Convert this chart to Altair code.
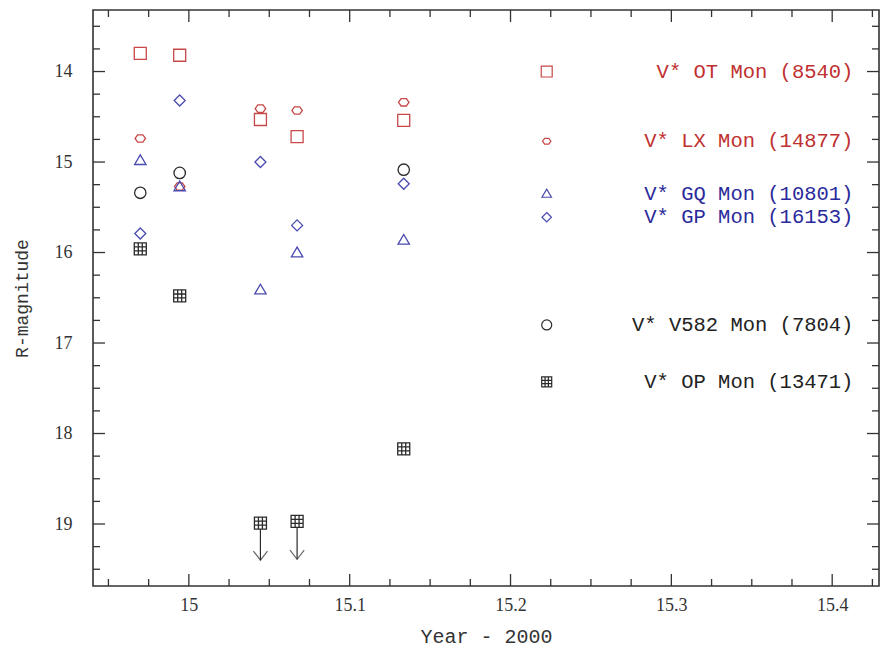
import altair as alt
import pandas as pd

# ---------------- data ----------------
years = [14.9698, 14.9943, 15.0445, 15.0673, 15.1336]
ot_mag = [13.80, 13.82, 14.53, 14.72, 14.54]
lx_mag = [14.74, 15.27, 14.41, 14.43, 14.34]
gq_mag = [14.98, 15.27, 16.41, 16.00, 15.86]
gp_mag = [15.79, 14.32, 15.00, 15.70, 15.24]
v582_mag = [15.34, 15.12, None, None, 15.085]
op_mag = [15.96, 16.48, 18.99, 18.97, 18.17]
op_upper = [False, False, True, True, False]
op_arrow_tip = [None, None, 19.40, 19.39, None]

series_keys = ["OT", "LX", "GQ", "GP", "V582", "OP"]
legend_names = ["V* OT Mon (8540)", "V* LX Mon (14877)", "V* GQ Mon (10801)",
                "V* GP Mon (16153)", "V* V582 Mon (7804)", "V* OP Mon (13471)"]
legend_mag = [14.00, 14.77, 15.35, 15.61, 16.80, 17.43]
legend_symbol_year = 15.2225
legend_text_year = 15.4132

x_domain = [14.9404, 15.4291]
y_domain = [13.32, 19.685]
x_major = [15.0, 15.1, 15.2, 15.3, 15.4]
x_minor = [14.95, 14.975, 15.025, 15.05, 15.075, 15.125, 15.15, 15.175,
           15.225, 15.25, 15.275, 15.325, 15.35, 15.375, 15.425]
y_major = [14, 15, 16, 17, 18, 19]
y_minor = [13.5, 13.75, 14.25, 14.5, 14.75, 15.25, 15.5, 15.75, 16.25, 16.5,
           16.75, 17.25, 17.5, 17.75, 18.25, 18.5, 18.75, 19.25, 19.5]

# ---------------- styling ----------------
W, H = 786, 576
RED_M, BLUE_M, BLACK_M = "#c84848", "#4a4ab0", "#2a2a2a"
RED_T, BLUE_T, BLACK_T = "#c03030", "#2a2a9a", "#222222"

HEX = "M-0.5,-0.7L0.5,-0.7L1,0L0.5,0.7L-0.5,0.7L-1,0Z"
TRI = "M-1,0.75L1,0.75L0,-0.95Z"
DIAM = "M0,-1L1,0L0,1L-1,0Z"
GRID = ("M-1,-1L1,-1L1,1L-1,1Z M-0.33,-1L-0.33,1 M0.33,-1L0.33,1 "
        "M-1,-0.33L1,-0.33 M-1,0.33L1,0.33")
VHEAD = "M-1,-1.3L0,0L1,-1.3"

style = {
    "OT": dict(shape="square", color=RED_M, tcolor=RED_T, size=144, lsize=120),
    "LX": dict(shape=HEX, color=RED_M, tcolor=RED_T, size=110, lsize=70),
    "GQ": dict(shape=TRI, color=BLUE_M, tcolor=BLUE_T, size=130, lsize=90),
    "GP": dict(shape=DIAM, color=BLUE_M, tcolor=BLUE_T, size=121, lsize=90),
    "V582": dict(shape="circle", color=BLACK_M, tcolor=BLACK_T, size=130, lsize=100),
    "OP": dict(shape=GRID, color=BLACK_M, tcolor=BLACK_T, size=144, lsize=100),
}
series_values = {"OT": ot_mag, "LX": lx_mag, "GQ": gq_mag, "GP": gp_mag,
                 "V582": v582_mag, "OP": op_mag}

xs = alt.Scale(domain=x_domain, nice=False, zero=False)
ys = alt.Scale(domain=y_domain, nice=False, zero=False, reverse=True)

xaxis = alt.Axis(values=x_major, format="~g", ticks=False, domain=False, grid=False,
                 labelFont="Liberation Serif", labelFontSize=18, labelPadding=10,
                 labelColor="#333333", title="Year - 2000", titleFont="Liberation Mono",
                 titleFontSize=20, titleFontWeight="normal", titleColor="#333333",
                 titleX=W / 2, titleY=50, titleBaseline="middle", titleAlign="center")
yaxis = alt.Axis(values=y_major, format="~g", ticks=False, domain=False, grid=False,
                 labelFont="Liberation Serif", labelFontSize=18, labelPadding=21,
                 labelColor="#333333", title="R-magnitude", titleFont="Liberation Mono",
                 titleFontSize=18, titleFontWeight="normal", titleColor="#333333",
                 titleX=-71, titleY=H / 2, titleBaseline="middle", titleAlign="center",
                 titleAngle=270)


def X(field):
    return alt.X(field, type="quantitative", scale=xs, axis=xaxis)


def Y(field):
    return alt.Y(field, type="quantitative", scale=ys, axis=yaxis)


layers = []

# inward ticks on all four sides
ymaj = pd.DataFrame({"v": y_major})
ymin = pd.DataFrame({"v": y_minor})
xmaj = pd.DataFrame({"v": x_major})
xmin = pd.DataFrame({"v": x_minor})
tick_style = dict(color="#333333", strokeWidth=1.3)
for df, ln in [(ymaj, 12), (ymin, 7)]:
    layers.append(alt.Chart(df).mark_rule(**tick_style).encode(
        y=Y("v"), x=alt.value(0), x2=alt.value(ln)))
    layers.append(alt.Chart(df).mark_rule(**tick_style).encode(
        y=Y("v"), x=alt.value(W - ln), x2=alt.value(W)))
for df, ln in [(xmaj, 12), (xmin, 7)]:
    layers.append(alt.Chart(df).mark_rule(**tick_style).encode(
        x=X("v"), y=alt.value(H - ln), y2=alt.value(H)))
    layers.append(alt.Chart(df).mark_rule(**tick_style).encode(
        x=X("v"), y=alt.value(0), y2=alt.value(ln)))

# upper-limit arrows for OP
arrows = pd.DataFrame({"year": years, "mag": op_mag, "tip": op_arrow_tip,
                       "upper": op_upper})
arrows = arrows[arrows["upper"]]
layers.append(alt.Chart(arrows).mark_rule(color=BLACK_M, strokeWidth=1.2).encode(
    x=X("year"), y=Y("mag"), y2=alt.Y2("tip")))
layers.append(alt.Chart(arrows).mark_point(shape=VHEAD, size=200, color=BLACK_M,
                                           strokeWidth=1.2, filled=False).encode(
    x=X("year"), y=Y("tip")))

# data points
for key in series_keys:
    st = style[key]
    df = pd.DataFrame({"year": years, "mag": series_values[key]}).dropna()
    kw = dict(shape=st["shape"], size=st["size"], color=st["color"],
              strokeWidth=1.3, filled=False, opacity=1)
    if key == "OP":
        kw.update(fill="white", fillOpacity=1)
    layers.append(alt.Chart(df).mark_point(**kw).encode(x=X("year"), y=Y("mag")))

# legend symbols and texts
for key, name, mag in zip(series_keys, legend_names, legend_mag):
    st = style[key]
    df = pd.DataFrame({"year": [legend_symbol_year], "tyear": [legend_text_year],
                       "mag": [mag], "name": [name]})
    layers.append(alt.Chart(df).mark_point(shape=st["shape"], size=st["lsize"],
                                           color=st["color"], strokeWidth=1.2,
                                           filled=False, opacity=1).encode(
        x=X("year"), y=Y("mag")))
    layers.append(alt.Chart(df).mark_text(align="right", baseline="middle",
                                          font="Liberation Mono", fontSize=20.5,
                                          color=st["tcolor"]).encode(
        x=X("tyear"), y=Y("mag"), text="name:N"))

chart = alt.layer(*layers).properties(
    width=W, height=H,
    autosize=alt.AutoSizeParams(type="none"),
    padding={"left": 93, "top": 10, "right": 4, "bottom": 65},
    background="white",
).configure_view(stroke="#333333", strokeWidth=1.6)

chart.save("out.html", embed_options={"renderer": "svg", "actions": False})
